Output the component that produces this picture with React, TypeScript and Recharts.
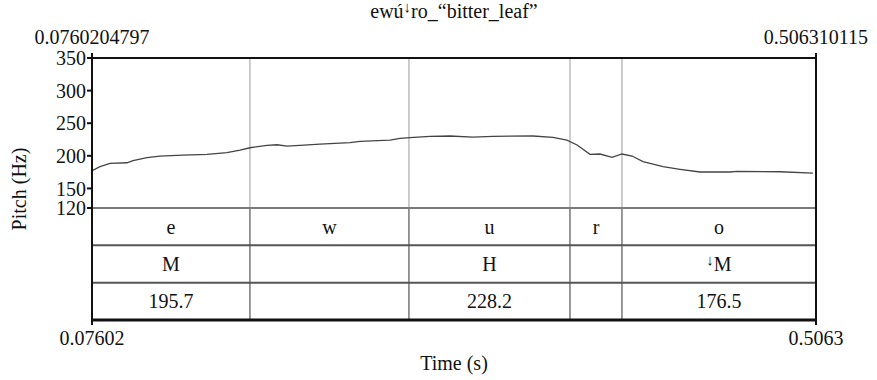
import React from 'react';
import {
  ComposedChart,
  Line,
  XAxis,
  YAxis,
  ReferenceLine,
  ReferenceArea,
} from 'recharts';

// ─── Data ─────────────────────────────────────────────────────────────────────

const TITLE = 'ewú↓ro_“bitter_leaf”';
const T_START = 0.0760204797;
const T_END = 0.506310115;

const pitchTimes = [
  0.0761, 0.0808, 0.0867, 0.0968, 0.1004, 0.1087, 0.1164, 0.1301, 0.1444,
  0.1562, 0.164, 0.1699, 0.18, 0.186, 0.1919, 0.1996, 0.2115, 0.2294, 0.2353,
  0.2531, 0.2591, 0.265, 0.2769, 0.2888, 0.3025, 0.3143, 0.3381, 0.35, 0.3583,
  0.3643, 0.372, 0.3779, 0.3851, 0.391, 0.397, 0.4035, 0.4154, 0.4255, 0.4374,
  0.4552, 0.4594, 0.4849, 0.5045,
];
const pitchHz = [
  177.1, 183.3, 188.5, 189.4, 192.5, 197.1, 199.7, 201.2, 202.3, 204.8, 208.9,
  212.4, 216.1, 217, 215, 216.1, 218.1, 220.1, 222.2, 224.2, 226.8, 227.8,
  229.9, 230.4, 228.8, 229.9, 230.4, 228.4, 224.2, 216.6, 202.3, 202.8, 197.7,
  202.8, 199.7, 191, 183.3, 179.3, 175.2, 175.2, 176.2, 175.6, 173.6,
];

const yTicks = [120, 150, 200, 250, 300, 350];

// interval boundaries of the text grid (s)
const boundaryTimes = [0.1699, 0.2644, 0.3601, 0.391];
const segmentLabels = ['e', 'w', 'u', 'r', 'o'];
const toneLabels = ['M', '', 'H', '', '↓M'];
const meanLabels = ['195.7', '', '228.2', '', '176.5'];

// ─── Layout ───────────────────────────────────────────────────────────────────

const PITCH_MIN = 120;
const PITCH_MAX = 350;
const TIER_HZ = 57.24; // height of one tier row in pitch units
const Y_BOTTOM = PITCH_MIN - 3 * TIER_HZ;
const FONT = "'Liberation Serif', 'DejaVu Serif', Tinos, 'Times New Roman', serif";
const FS = 20;

const pitchData = pitchTimes.map((t, i) => ({ t, hz: pitchHz[i] }));
const edges = [T_START, ...boundaryTimes, T_END];
const tiers = [segmentLabels, toneLabels, meanLabels];

const textStyle = { fontFamily: FONT, fontSize: FS, fill: '#111' };

// text with an optional raised downstep arrow
function Downstep({ x, y, text }: { x: number; y: number; text: string }) {
  const idx = text.indexOf('↓');
  if (idx < 0) {
    return (
      <text x={x} y={y} textAnchor="middle" style={textStyle}>
        {text}
      </text>
    );
  }
  return (
    <text x={x} y={y} textAnchor="middle" style={textStyle}>
      <tspan>{text.slice(0, idx)}</tspan>
      <tspan style={{ fontSize: 15, fontWeight: 'bold' }} dy={-6}>↓</tspan>
      <tspan dy={6}>{text.slice(idx + 1)}</tspan>
    </text>
  );
}

export default function App() {
  return (
    <div style={{ position: 'absolute', left: 0, top: 0, background: '#fff' }}>
      <ComposedChart
        width={877}
        height={380}
        data={pitchData}
        margin={{ top: 28, right: 61, bottom: 10, left: 0 }}
      >
        <XAxis
          xAxisId="top"
          orientation="top"
          dataKey="t"
          type="number"
          domain={[T_START, T_END]}
          ticks={[T_START, T_END]}
          interval={0}
          tickFormatter={(v: number) => String(v)}
          allowDataOverflow
          height={30}
          axisLine={{ stroke: '#111', strokeWidth: 2 }}
          tickLine={{ stroke: '#111', strokeWidth: 2 }}
          tickSize={5}
          tickMargin={9}
          tick={textStyle}
          label={(p: any) => (
            <Downstep x={p.viewBox.x + p.viewBox.width / 2} y={18} text={TITLE} />
          )}
        />
        <XAxis
          dataKey="t"
          type="number"
          domain={[T_START, T_END]}
          ticks={[T_START, T_END]}
          interval={0}
          tickFormatter={(v: number) => v.toPrecision(4)}
          allowDataOverflow
          height={50}
          axisLine={{ stroke: '#111', strokeWidth: 3 }}
          tickLine={{ stroke: '#111', strokeWidth: 2 }}
          tickSize={5}
          tickMargin={6}
          tick={textStyle}
          label={(p: any) => (
            <text
              x={p.viewBox.x + p.viewBox.width / 2}
              y={370}
              textAnchor="middle"
              style={textStyle}
            >
              Time (s)
            </text>
          )}
        />
        <YAxis
          type="number"
          domain={[Y_BOTTOM, PITCH_MAX]}
          ticks={yTicks}
          interval={0}
          allowDataOverflow
          width={92}
          axisLine={{ stroke: '#111', strokeWidth: 2 }}
          tickLine={{ stroke: '#111', strokeWidth: 2 }}
          tickSize={5}
          tickMargin={1}
          tick={textStyle}
          label={(p: any) => {
            const cx = 26;
            const cy = p.viewBox.y + p.viewBox.height / 2;
            return (
              <text
                x={cx}
                y={cy}
                transform={`rotate(-90, ${cx}, ${cy})`}
                textAnchor="middle"
                style={textStyle}
              >
                Pitch (Hz)
              </text>
            );
          }}
        />

        {/* interval boundaries: light in the pitch area, dark in the text grid */}
        {boundaryTimes.map((b) => (
          <ReferenceLine
            key={`pb${b}`}
            segment={[{ x: b, y: PITCH_MIN }, { x: b, y: PITCH_MAX }]}
            stroke="#9a9a9a"
            strokeWidth={1}
          />
        ))}
        {boundaryTimes.map((b) => (
          <ReferenceLine
            key={`tb${b}`}
            segment={[{ x: b, y: Y_BOTTOM }, { x: b, y: PITCH_MIN }]}
            stroke="#333"
            strokeWidth={1}
          />
        ))}

        {/* tier row separators */}
        <ReferenceLine y={PITCH_MIN} stroke="#7a7a7a" strokeWidth={2} />
        <ReferenceLine y={PITCH_MIN - TIER_HZ} stroke="#555" strokeWidth={2} />
        <ReferenceLine y={PITCH_MIN - 2 * TIER_HZ} stroke="#555" strokeWidth={2} />
        <ReferenceLine x={T_END} stroke="#111" strokeWidth={2} />

        {/* tier labels */}
        {tiers.map((labels, row) =>
          labels.map((txt, i) =>
            txt ? (
              <ReferenceArea
                key={`c${row}-${i}`}
                x1={edges[i]}
                x2={edges[i + 1]}
                y1={PITCH_MIN - (row + 1) * TIER_HZ}
                y2={PITCH_MIN - row * TIER_HZ}
                fill="none"
                stroke="none"
                label={(p: any) => (
                  <Downstep
                    x={p.viewBox.x + p.viewBox.width / 2}
                    y={p.viewBox.y + p.viewBox.height / 2 + 7}
                    text={txt}
                  />
                )}
              />
            ) : null
          )
        )}

        <Line
          dataKey="hz"
          type="linear"
          stroke="#444"
          strokeWidth={1.3}
          dot={false}
          isAnimationActive={false}
        />
      </ComposedChart>
    </div>
  );
}
